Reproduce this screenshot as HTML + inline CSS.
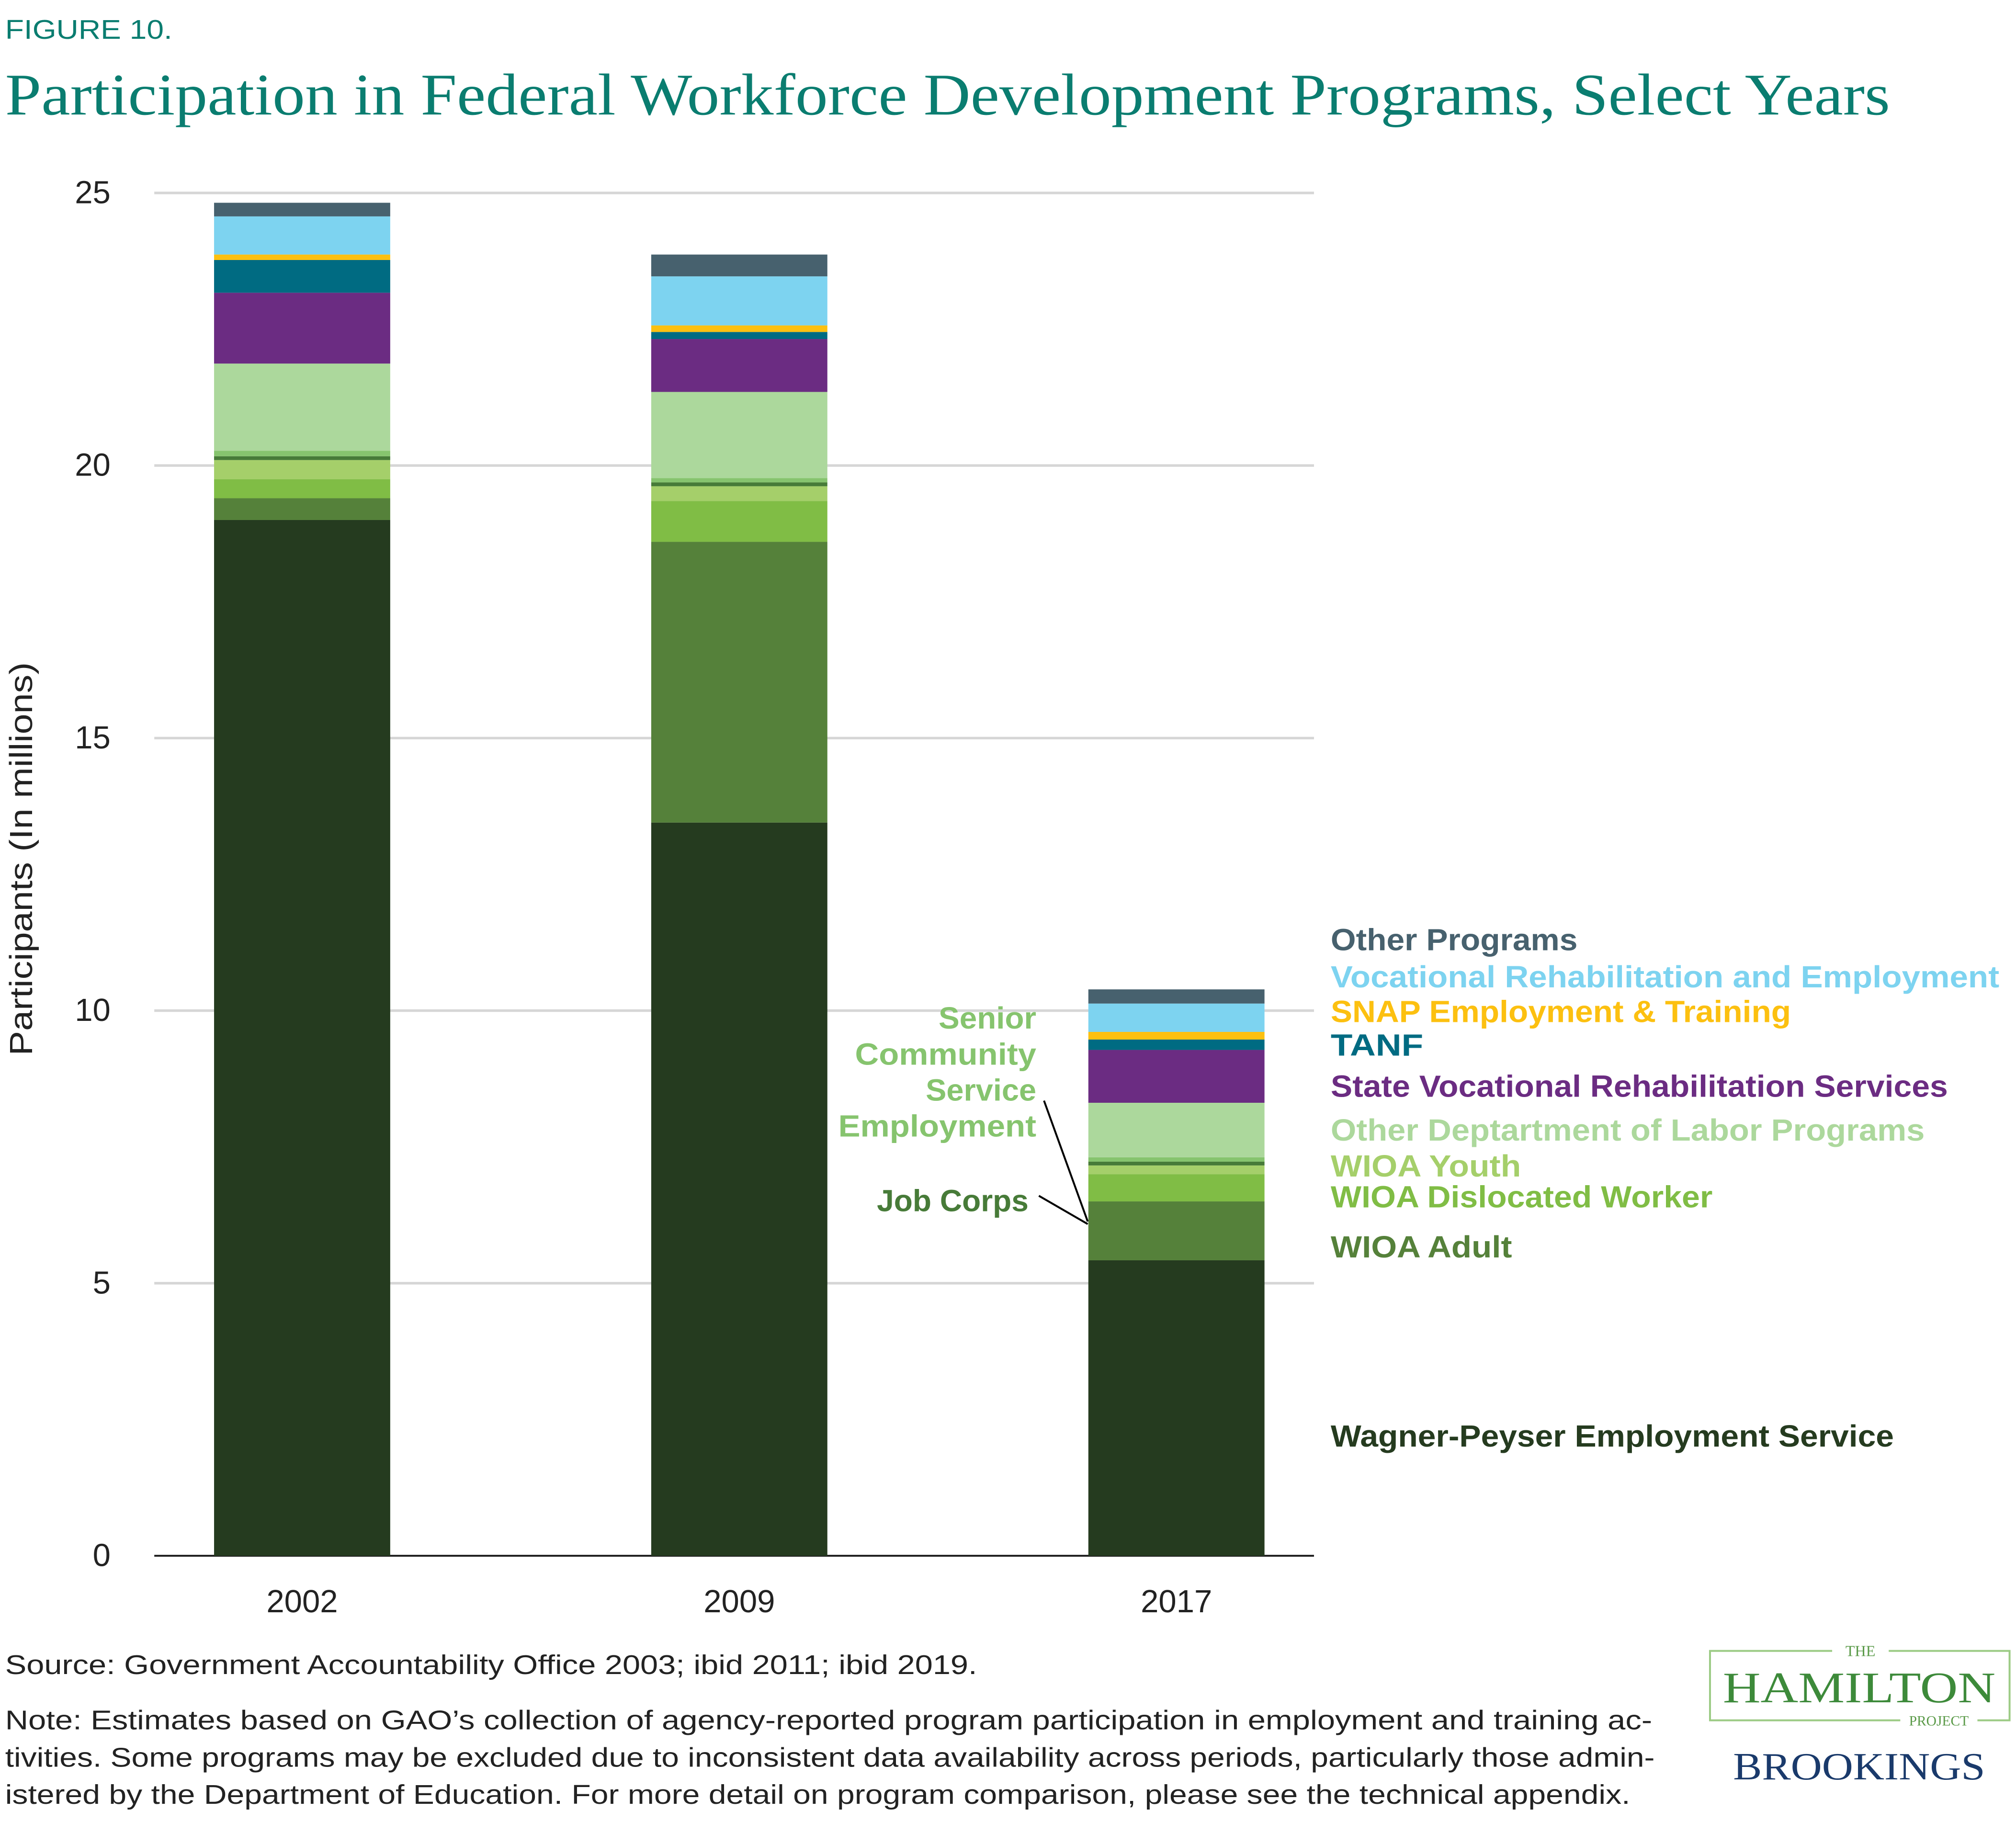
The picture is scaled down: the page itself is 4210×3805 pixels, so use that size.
<!DOCTYPE html>
<html><head><meta charset="utf-8"><style>
html,body{margin:0;padding:0;background:#fff;}
svg{display:block;}
.s{font-family:"Liberation Sans",sans-serif;}
.r{font-family:"Liberation Serif",serif;}
</style></head><body>
<svg id="chart" width="4210" height="3805" viewBox="0 0 1568 1417" xmlns="http://www.w3.org/2000/svg">
<text class="s" x="4" y="30" font-size="21" fill="#0a7d70" textLength="130" lengthAdjust="spacingAndGlyphs">FIGURE 10.</text>
<text class="r" x="4" y="89" font-size="46" fill="#0a7d70" textLength="1466" lengthAdjust="spacingAndGlyphs">Participation in Federal Workforce Development Programs, Select Years</text>
<g id="grid"></g>
<g id="bars"></g>
<g id="yticks"></g>
<g id="xticks"></g>
<text class="s" transform="translate(25,668) rotate(-90)" text-anchor="middle" font-size="25" fill="#222" textLength="306" lengthAdjust="spacingAndGlyphs">Participants (In millions)</text>
<g id="legend" class="s" font-size="24" font-weight="bold"></g>
<g class="s" font-size="24" font-weight="bold" text-anchor="end">
<text x="806" y="800" fill="#86c46e" textLength="76" lengthAdjust="spacingAndGlyphs">Senior</text>
<text x="806" y="828" fill="#86c46e" textLength="141" lengthAdjust="spacingAndGlyphs">Community</text>
<text x="806" y="856" fill="#86c46e" textLength="86" lengthAdjust="spacingAndGlyphs">Service</text>
<text x="806" y="884" fill="#86c46e" textLength="154" lengthAdjust="spacingAndGlyphs">Employment</text>
<text x="800" y="942" fill="#477b38" textLength="118" lengthAdjust="spacingAndGlyphs">Job Corps</text>
<polyline points="812,856 846,950" fill="none" stroke="#000" stroke-width="1.5"/>
<polyline points="808,930 846,952" fill="none" stroke="#000" stroke-width="1.5"/>
</g>
<text class="s" x="4" y="1302" font-size="21" fill="#222" textLength="756" lengthAdjust="spacingAndGlyphs">Source:  Government Accountability Office 2003; ibid 2011; ibid 2019.</text>
<g class="s" font-size="21" fill="#222">
<text x="4" y="1345" textLength="1281" lengthAdjust="spacingAndGlyphs">Note:  Estimates based on GAO’s collection of agency-reported program participation in employment and training ac-</text>
<text x="4" y="1374" textLength="1283" lengthAdjust="spacingAndGlyphs">tivities. Some programs may be excluded due to inconsistent data availability across periods, particularly those admin-</text>
<text x="4" y="1403" textLength="1264" lengthAdjust="spacingAndGlyphs">istered by the Department of Education. For more detail on program comparison, please see the technical appendix.</text>
</g>
<g>
<rect x="1330" y="1284" width="233" height="54" fill="none" stroke="#9ccb85" stroke-width="1.5"/>
<rect x="1425" y="1276" width="44" height="14" fill="#fff"/>
<text class="r" x="1447" y="1288" font-size="12" fill="#5a9a48" text-anchor="middle">THE</text>
<text class="r" x="1446" y="1324" font-size="34" fill="#3d8a3a" text-anchor="middle" textLength="212" lengthAdjust="spacingAndGlyphs">HAMILTON</text>
<rect x="1478" y="1331" width="60" height="12" fill="#fff"/>
<text class="r" x="1508" y="1342" font-size="11" fill="#5a9a48" text-anchor="middle">PROJECT</text>
<text class="r" x="1446" y="1384" font-size="30" fill="#1a3a6b" text-anchor="middle" textLength="196" lengthAdjust="spacingAndGlyphs">BROOKINGS</text>
</g>
</svg>
<script>
const years = ["2002","2009","2017"];
const programs = ["Wagner-Peyser Employment Service","WIOA Adult","WIOA Dislocated Worker","WIOA Youth","Job Corps","Senior Community Service Employment","Other Deptartment of Labor Programs","State Vocational Rehabilitation Services","TANF","SNAP Employment & Training","Vocational Rehabilitation and Employment","Other Programs"];
const colors = ["#253b1f","#55813a","#80bd45","#a5cf6a","#477b38","#86c46e","#acd89c","#6b2c82","#006b82","#fcc010","#7dd3f0","#47616e"];
const wagner = [19.0, 13.45, 5.42];
const wioaAdult = [0.4, 5.15, 1.08];
const dislocated = [0.35, 0.75, 0.5];
const youth = [0.35, 0.27, 0.16];
const jobCorps = [0.07, 0.07, 0.07];
const scse = [0.1, 0.08, 0.08];
const otherDol = [1.6, 1.58, 1.0];
const stateVR = [1.3, 0.97, 0.97];
const tanf = [0.6, 0.13, 0.19];
const snap = [0.1, 0.12, 0.14];
const vre = [0.7, 0.9, 0.52];
const otherProg = [0.25, 0.4, 0.26];
const yTicks = [0,5,10,15,20,25];
const series = [wagner,wioaAdult,dislocated,youth,jobCorps,scse,otherDol,stateVR,tanf,snap,vre,otherProg];
const legendY = [1117, 970, 931, 907, null, null, 879, 845, 813, 787, 760, 731];
const legendW = [438, 141, 297, 148, null, null, 462, 480, 72, 358, 520, 192];
const NS="http://www.w3.org/2000/svg";
const y0=1210, y25=150;
function yScale(v){return y0-(y0-y25)*v/25;}
const centers=[235,575,915], bw=137;
function xScale(i){return centers[i];}
function mk(tag,attrs,parent){const e=document.createElementNS(NS,tag);for(const k in attrs)e.setAttribute(k,attrs[k]);parent.appendChild(e);return e;}
const grid=document.getElementById('grid'), yt=document.getElementById('yticks');
yTicks.forEach(t=>{
 const l=mk('line',{x1:120,x2:1022,y1:yScale(t),y2:yScale(t),stroke:t===0?'#222':'#d6d6d6','stroke-width':t===0?1.5:2},grid);
 
 
 const tx=mk('text',{x:86,y:yScale(t)+8,'text-anchor':'end','font-size':25,fill:'#222','class':'s'},yt);
 tx.textContent=t;
 
 
});
const bars=document.getElementById('bars'), xt=document.getElementById('xticks');
years.forEach((yr,i)=>{
 let cum=0;
 series.forEach((s,j)=>{
  const v=s[i];
  const r=mk('rect',{x:xScale(i)-bw/2,y:yScale(cum+v),width:bw,height:yScale(cum)-yScale(cum+v),fill:colors[j]},bars);
  
  
  cum+=v;
 });
 const tx=mk('text',{x:xScale(i),y:1254,'text-anchor':'middle','font-size':25,fill:'#222','class':'s'},xt);
 tx.textContent=yr;
 
 
});
const lg=document.getElementById('legend');
programs.forEach((p,j)=>{
 if(legendY[j]===null)return;
 const t=mk('text',{x:1035,y:legendY[j]+8,fill:colors[j],textLength:legendW[j],lengthAdjust:'spacingAndGlyphs'},lg);
 t.textContent=p;
 
 
});
</script>
</body></html>
